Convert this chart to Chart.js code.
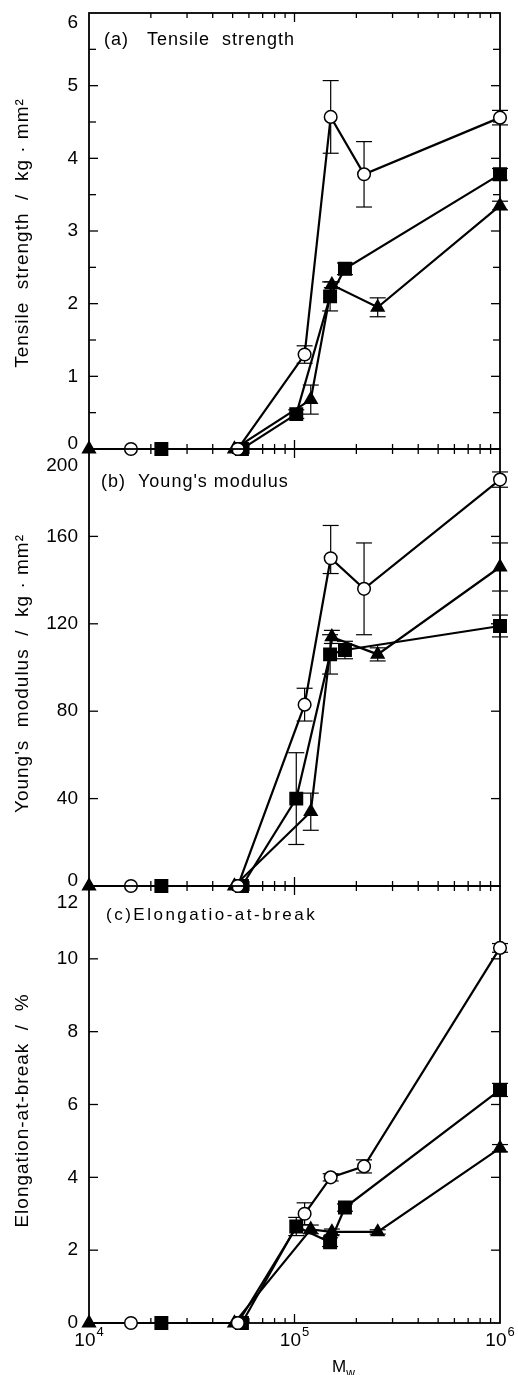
<!DOCTYPE html>
<html>
<head>
<meta charset="utf-8">
<script src="https://cdn.jsdelivr.net/npm/chart.js@4.4.1/dist/chart.umd.min.js"></script>
<style>
  html, body { margin: 0; padding: 0; background: #fff; }
  #wrap { position: relative; width: 518px; height: 1375px; overflow: hidden; }
  #wrap canvas { position: absolute; left: 0; }
</style>
</head>
<body>
<div id="wrap">
  <canvas id="chart-a" width="518" height="470" style="top:0"></canvas>
  <canvas id="chart-b" width="518" height="475" style="top:430px"></canvas>
  <canvas id="chart-c" width="518" height="509" style="top:866px"></canvas>
</div>
<script>
// ---- data (Mw for each sample series) ----
const xCircle   = [1.6e4, 5.3e4, 1.12e5, 1.5e5, 2.18e5, 1.0e6];
const xSquare   = [2.25e4, 5.55e4, 1.02e5, 1.49e5, 1.76e5, 1.0e6];
const xTriangle = [1.0e4, 5.1e4, 1.2e5, 1.52e5, 2.54e5, 1.0e6];

// (a) tensile strength
const tensileCircle      = [0, 0, 1.30, 4.57, 3.78, 4.56];
const tensileCircleErr   = [0, 0, 0.12, 0.50, 0.45, 0.10];
const tensileSquare      = [0, 0, 0.48, 2.10, 2.48, 3.78];
const tensileSquareErr   = [0, 0, 0.06, 0.20, 0.08, 0.08];
const tensileTriangle    = [0, 0, 0.68, 2.26, 1.95, 3.35];
const tensileTriangleErr = [0, 0, 0.20, 0.04, 0.13, 0.06];

// (b) Young's modulus  (error may be [minus, plus])
const youngCircle      = [0, 0, 83, 150, 136, 186];
const youngCircleErr   = [0, 0, 7.5, [7, 15], 21, 3.5];
const youngSquare      = [0, 0, 40, 106, 108, 119];
const youngSquareErr   = [0, 0, 21, 9, 4, 5];
const youngTriangle    = [0, 0, 34, 114, 106, 146];
const youngTriangleErr = [0, 0, 8.5, 3, 3, 11];

// (c) elongation at break
const elongCircle      = [0, 0, 3.0, 4.0, 4.3, 10.3];
const elongCircleErr   = [0, 0, 0.3, 0.1, 0.18, 0.12];
const elongSquare      = [0, 0, 2.65, 2.22, 3.17, 6.4];
const elongSquareErr   = [0, 0, 0.25, 0.12, 0.1, 0.18];
const elongTriangle    = [0, 0, 2.57, 2.5, 2.5, 4.8];
const elongTriangleErr = [0, 0, 0.12, 0.08, 0.06, 0.1];

// tick labels
const yTicksA = [0, 1, 2, 3, 4, 5, 6];
const yTicksB = [0, 40, 80, 120, 160, 200];
const yTicksC = [0, 2, 4, 6, 8, 10, 12];
const xDecades = [1e4, 1e5, 1e6];
const xExponents = ['4', '5', '6'];

const FONT = '"Liberation Sans", Arial, Helvetica, sans-serif';

function strokeLine(ctx, x1, y1, x2, y2) {
    ctx.beginPath();
    ctx.moveTo(x1, y1);
    ctx.lineTo(x2, y2);
    ctx.stroke();
}

// frame, inward ticks, error bars and all labels
const panelPlugin = {
    id: 'panel',
    beforeDatasetsDraw(chart, args, opts) {
        const { ctx, chartArea: a } = chart;
        const x = chart.scales.x, y = chart.scales.y;
        ctx.save();
        ctx.strokeStyle = '#000';
        ctx.lineWidth = 1.8;
        ctx.strokeRect(a.left, a.top, a.right - a.left, a.bottom - a.top);

        ctx.lineWidth = 1.3;
        for (let dec = x.min; dec < x.max; dec *= 10) {
            for (let k = 1; k <= 9; k++) {
                const v = dec * k;
                if (v <= x.min) continue;
                const px = x.getPixelForValue(v);
                const len = k === 1 ? 9 : 5;
                strokeLine(ctx, px, a.top, px, a.top + len);
                strokeLine(ctx, px, a.bottom, px, a.bottom - len);
            }
        }

        const yt = opts.yTicks;
        const marks = yt.map(v => [v, 9]);
        if (opts.halfMinor) {
            for (let i = 0; i < yt.length - 1; i++) marks.push([(yt[i] + yt[i + 1]) / 2, 7]);
        }
        marks.forEach(([v, len]) => {
            if (v <= y.min || v >= y.max) return;
            const py = y.getPixelForValue(v);
            strokeLine(ctx, a.left, py, a.left + len, py);
            strokeLine(ctx, a.right, py, a.right - len, py);
        });

        ctx.lineWidth = 1.2;
        chart.data.datasets.forEach(ds => {
            (ds.errors || []).forEach((e, i) => {
                if (!e) return;
                const [lo, hi] = Array.isArray(e) ? e : [e, e];
                const p = ds.data[i];
                const px = x.getPixelForValue(p.x);
                const y1 = y.getPixelForValue(p.y - lo);
                const y2 = y.getPixelForValue(p.y + hi);
                strokeLine(ctx, px, y1, px, y2);
                strokeLine(ctx, px - 8, y1, px + 8, y1);
                strokeLine(ctx, px - 8, y2, px + 8, y2);
            });
        });
        ctx.restore();
    },
    afterDraw(chart, args, opts) {
        const { ctx, chartArea: a } = chart;
        const x = chart.scales.x, y = chart.scales.y;
        ctx.save();
        ctx.fillStyle = '#000';

        // y tick labels (edge labels nudged inside like the original)
        ctx.font = `19px ${FONT}`;
        ctx.textAlign = 'right';
        ctx.textBaseline = 'middle';
        opts.yTicks.forEach(v => {
            let py = y.getPixelForValue(v);
            if (v === y.max) py += opts.topShift;
            if (v === y.min) py += opts.bottomShift;
            ctx.fillText(String(v), a.left - 11, py);
        });

        // panel caption
        ctx.textAlign = 'left';
        ctx.textBaseline = 'alphabetic';
        ctx.font = opts.captionFont;
        ctx.letterSpacing = opts.captionSpacing;
        ctx.fillText(opts.caption, opts.captionX, a.top + opts.captionDy);

        // rotated axis title
        ctx.save();
        ctx.translate(23, (a.top + a.bottom) / 2 + opts.axisTitleDy);
        ctx.rotate(-Math.PI / 2);
        ctx.textAlign = 'center';
        ctx.textBaseline = 'middle';
        ctx.font = `19px ${FONT}`;
        ctx.letterSpacing = '1px';
        ctx.fillText(opts.axisTitle, 0, 0);
        ctx.restore();

        // x tick labels and title on the bottom panel only
        if (opts.xLabels) {
            ctx.letterSpacing = '0px';
            ctx.textAlign = 'left';
            xDecades.forEach((v, i) => {
                const px = x.getPixelForValue(v);
                ctx.font = `19px ${FONT}`;
                const w10 = ctx.measureText('10').width;
                ctx.font = `13px ${FONT}`;
                const wExp = ctx.measureText(xExponents[i]).width;
                const left = px - (w10 + wExp + 1) / 2;
                ctx.font = `19px ${FONT}`;
                ctx.fillText('10', left, a.bottom + 23);
                ctx.font = `13px ${FONT}`;
                ctx.fillText(xExponents[i], left + w10 + 1, a.bottom + 13);
            });
            ctx.font = `17px ${FONT}`;
            ctx.fillText('M', 332, a.bottom + 49);
            const wM = ctx.measureText('M').width;
            ctx.font = `12px ${FONT}`;
            ctx.fillText('w', 332 + wM, a.bottom + 54);
        }
        ctx.restore();
    }
};

function series(xs, ys, errs, marker) {
    return {
        data: xs.map((v, i) => ({ x: v, y: ys[i] })),
        errors: errs,
        showLine: true,
        borderColor: '#000',
        borderWidth: 2.2,
        pointStyle: marker.style,
        pointRadius: marker.radius,
        pointBackgroundColor: marker.fill,
        pointBorderColor: '#000',
        pointBorderWidth: 1.5,
        clip: false
    };
}

const CIRCLE = { style: 'circle', radius: 6.3, fill: '#fff' };
const SQUARE = { style: 'rect', radius: 8.8, fill: '#000' };
const TRIANGLE = { style: 'triangle', radius: 7.3, fill: '#000' };

function makePanel(id, yMax, padding, datasets, panelOpts) {
    return new Chart(document.getElementById(id), {
        type: 'scatter',
        data: { datasets },
        options: {
            responsive: false,
            devicePixelRatio: 1,
            animation: false,
            events: [],
            layout: { padding },
            scales: {
                x: { type: 'logarithmic', min: 1e4, max: 1e6, display: false },
                y: { type: 'linear', min: 0, max: yMax, display: false }
            },
            plugins: {
                legend: { display: false },
                tooltip: { enabled: false },
                panel: panelOpts
            }
        },
        plugins: [panelPlugin]
    });
}

makePanel('chart-a', 6, { left: 89, right: 18, top: 13, bottom: 21 }, [
    series(xCircle, tensileCircle, tensileCircleErr, CIRCLE),
    series(xSquare, tensileSquare, tensileSquareErr, SQUARE),
    series(xTriangle, tensileTriangle, tensileTriangleErr, TRIANGLE)
], {
    yTicks: yTicksA, halfMinor: true, topShift: 10, bottomShift: -5,
    caption: '(a)   Tensile  strength', captionFont: `18px ${FONT}`, captionSpacing: '1px',
    captionX: 104, captionDy: 32,
    axisTitle: 'Tensile  strength  /  kg · mm\u00B2', axisTitleDy: 2
});

makePanel('chart-b', 200, { left: 89, right: 18, top: 19, bottom: 19 }, [
    series(xCircle, youngCircle, youngCircleErr, CIRCLE),
    series(xSquare, youngSquare, youngSquareErr, SQUARE),
    series(xTriangle, youngTriangle, youngTriangleErr, TRIANGLE)
], {
    yTicks: yTicksB, halfMinor: false, topShift: 17, bottomShift: -5,
    caption: "(b)  Young's modulus", captionFont: `18px ${FONT}`, captionSpacing: '1px',
    captionX: 101, captionDy: 38,
    axisTitle: "Young's  modulus  /  kg · mm\u00B2", axisTitleDy: 6
});

makePanel('chart-c', 12, { left: 89, right: 18, top: 20, bottom: 52 }, [
    series(xCircle, elongCircle, elongCircleErr, CIRCLE),
    series(xSquare, elongSquare, elongSquareErr, SQUARE),
    series(xTriangle, elongTriangle, elongTriangleErr, TRIANGLE)
], {
    yTicks: yTicksC, halfMinor: false, topShift: 17, bottomShift: 0,
    caption: '(c)Elongatio-at-break', captionFont: `17px ${FONT}`, captionSpacing: '2.5px',
    captionX: 106, captionDy: 34,
    axisTitle: 'Elongation-at-break  /  %', axisTitleDy: 6,
    xLabels: true
});
</script>
</body>
</html>
